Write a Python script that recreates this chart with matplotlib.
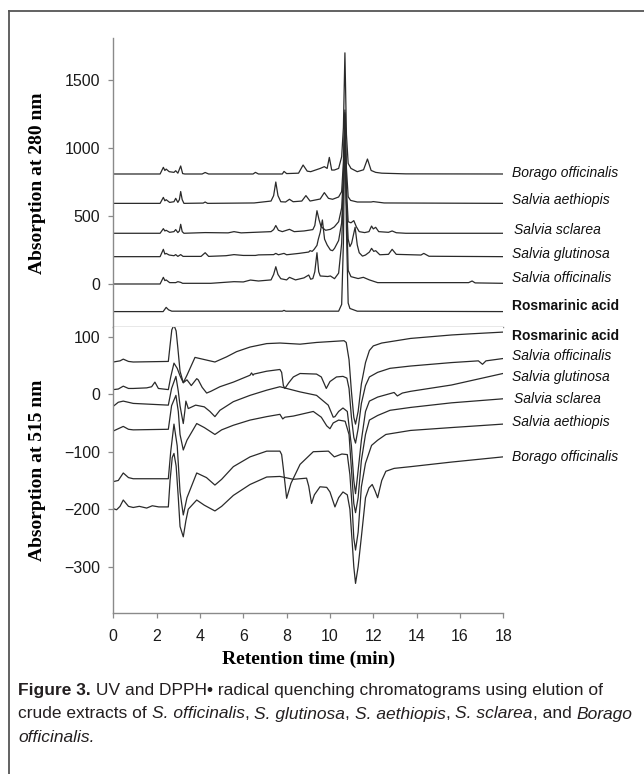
import matplotlib
matplotlib.use("Agg")
import matplotlib.pyplot as plt
from matplotlib import font_manager
from matplotlib.lines import Line2D

# retention time (min), absorbance at 280 nm
uv_borago = [(0, 809), (2.16, 809), (2.31, 858), (2.38, 835), (2.44, 845), (2.58, 826), (2.80, 821),
             (2.88, 833), (2.98, 815), (3.11, 868), (3.20, 812), (3.30, 809), (4.10, 809), (4.24, 820),
             (4.40, 809), (6.45, 809), (6.56, 821), (6.70, 809), (7.80, 809), (7.88, 828), (8.00, 812),
             (8.55, 815), (8.76, 875), (8.95, 830), (9.11, 826), (9.55, 850), (9.74, 863), (9.87, 850),
             (9.97, 931), (10.08, 838), (10.20, 838), (10.40, 850), (10.54, 936), (10.62, 1150),
             (10.69, 1700), (10.76, 1100), (10.84, 887), (10.97, 850), (11.26, 826), (11.55, 840),
             (11.73, 919), (11.90, 835), (12.11, 821), (12.39, 815), (13.5, 810), (18.0, 809)]
uv_aethiopis = [(0, 593), (2.16, 593), (2.31, 637), (2.38, 612), (2.44, 620), (2.60, 600), (2.80, 605),
                (2.88, 630), (2.98, 600), (3.05, 620), (3.11, 680), (3.18, 620), (3.26, 593), (4.15, 595),
                (4.24, 603), (4.35, 593), (6.50, 596), (7.28, 610), (7.40, 650), (7.50, 750), (7.60, 650),
                (7.73, 605), (7.95, 603), (8.13, 623), (8.30, 605), (8.70, 610), (8.89, 650), (9.08, 610),
                (9.55, 625), (9.74, 672), (9.93, 630), (10.12, 623), (10.40, 640), (10.54, 680),
                (10.62, 900), (10.69, 1280), (10.76, 850), (10.84, 642), (10.95, 615), (11.26, 603),
                (11.90, 603), (12.00, 606), (12.50, 596), (18.0, 593)]
uv_sclarea = [(0, 373), (2.16, 373), (2.31, 407), (2.38, 390), (2.44, 395), (2.60, 380), (2.80, 385),
              (2.88, 400), (2.98, 378), (3.05, 390), (3.11, 439), (3.18, 385), (3.26, 373), (4.24, 378),
              (5.30, 376), (5.57, 385), (5.90, 376), (7.28, 385), (7.40, 400), (7.50, 430), (7.62, 395),
              (7.80, 385), (8.13, 402), (8.35, 385), (8.80, 390), (9.21, 400), (9.30, 430), (9.40, 539),
              (9.50, 470), (9.59, 422), (9.80, 395), (10.02, 402), (10.20, 420), (10.40, 458),
              (10.54, 560), (10.62, 800), (10.69, 1230), (10.76, 700), (10.84, 458), (10.97, 450),
              (11.10, 466), (11.22, 420), (11.35, 385), (11.60, 378), (11.80, 385), (11.92, 426),
              (12.00, 405), (12.11, 417), (12.25, 385), (12.70, 380), (12.87, 390), (13.06, 377),
              (13.5, 373), (18.0, 373)]
uv_glutinosa = [(0, 201), (2.16, 201), (2.31, 255), (2.38, 220), (2.44, 225), (2.58, 213), (2.80, 208),
                (2.88, 216), (2.98, 203), (3.11, 216), (3.22, 203), (4.05, 203), (4.24, 230), (4.40, 203),
                (5.20, 208), (5.57, 216), (6.00, 210), (6.56, 210), (6.70, 214), (7.40, 216), (7.50, 225),
                (7.62, 215), (7.88, 225), (8.00, 215), (8.57, 225), (9.02, 235), (9.08, 245), (9.18, 240),
                (9.27, 255), (9.40, 284), (9.46, 328), (9.55, 380), (9.65, 471), (9.75, 330), (9.87, 287),
                (10.02, 250), (10.12, 245), (10.21, 262), (10.40, 320), (10.54, 450), (10.62, 700),
                (10.69, 1000), (10.76, 600), (10.84, 330), (10.92, 275), (11.00, 300), (11.16, 417),
                (11.26, 287), (11.35, 230), (11.50, 205), (11.64, 213), (11.82, 235), (11.92, 262),
                (12.02, 240), (12.11, 245), (12.30, 215), (12.70, 218), (12.87, 255), (13.06, 218),
                (14.20, 213), (14.33, 225), (14.57, 204), (18.0, 201)]
uv_officinalis = [(0, 0), (2.16, 0), (2.31, 49), (2.38, 25), (2.44, 30), (2.60, 10), (2.88, 10), (2.98, 17),
                  (3.11, 12), (3.20, 5), (4.50, 5), (5.57, 17), (6.00, 15), (6.33, 29), (6.70, 22),
                  (7.28, 30), (7.40, 70), (7.50, 127), (7.60, 70), (7.73, 39), (8.00, 30), (8.13, 49),
                  (8.41, 30), (8.80, 45), (9.02, 66), (9.11, 35), (9.21, 40), (9.30, 90), (9.40, 230),
                  (9.48, 90), (9.55, 59), (9.90, 55), (10.02, 59), (10.21, 39), (10.40, 80), (10.54, 300),
                  (10.62, 700), (10.69, 1260), (10.76, 600), (10.84, 100), (10.97, 54), (11.30, 40),
                  (11.54, 49), (11.82, 30), (12.20, 10), (16.40, 10), (16.56, 22), (16.70, 8), (18.0, 5)]
uv_rosmarinic = [(0, -203), (2.30, -203), (2.44, -172), (2.55, -190), (2.70, -200), (7.80, -200),
                 (7.88, -194), (7.96, -200), (10.40, -200), (10.54, -150), (10.62, 300), (10.69, 1250),
                 (10.76, 400), (10.84, -140), (10.92, -180), (11.26, -200), (18.0, -203)]

# retention time (min), absorbance at 515 nm (DPPH)
dpph_rosmarinic = [(0, 56), (0.31, 58), (0.46, 61), (0.70, 57), (0.92, 56), (2.54, 57), (2.62, 85),
                   (2.70, 112), (2.80, 120), (2.90, 110), (2.98, 80), (3.08, 40), (3.23, 20), (3.40, 33),
                   (3.77, 64), (4.00, 62), (4.46, 58), (4.69, 56), (5.23, 65), (5.69, 74), (6.31, 82),
                   (7.08, 88), (7.69, 89), (8.62, 87), (9.38, 90), (10.65, 93), (10.75, 90), (10.88, 60),
                   (10.99, 5), (11.10, -40), (11.18, -52), (11.30, -30), (11.45, 18), (11.64, 55),
                   (11.82, 76), (12.00, 84), (12.39, 89), (13.72, 97), (15.61, 103), (16.50, 105),
                   (17.98, 108)]
dpph_officinalis = [(0, 8), (0.23, 9), (0.46, 14), (0.70, 10), (0.92, 10), (1.54, 11), (1.77, 13),
                    (1.92, 21), (2.08, 10), (2.54, 8), (2.65, 30), (2.80, 54), (2.95, 45), (3.08, 32),
                    (3.23, 20), (3.40, 25), (3.60, 15), (3.85, 27), (3.92, 25), (4.10, 12), (4.31, 2),
                    (4.50, 5), (4.92, 13), (5.54, 21), (6.31, 33), (6.38, 37), (6.45, 33), (6.49, 35),
                    (7.08, 40), (7.69, 43), (7.77, 38), (7.85, 15), (7.92, 10), (8.10, 20), (8.31, 30),
                    (8.62, 36), (9.38, 35), (9.60, 30), (9.83, 10), (10.00, 22), (10.30, 30), (10.60, 31),
                    (10.78, 28), (10.88, 10), (10.99, -40), (11.10, -75), (11.18, -85), (11.30, -60),
                    (11.45, -16), (11.64, 15), (11.82, 30), (12.20, 38), (12.77, 45), (13.72, 49),
                    (15.61, 55), (16.85, 58), (17.04, 52), (17.20, 58), (17.98, 62)]
dpph_glutinosa = [(0, -21), (0.23, -14), (0.46, -12), (0.92, -16), (2.54, -19), (2.69, 10), (2.89, 31),
                  (3.00, 5), (3.08, -20), (3.15, -35), (3.23, -51), (3.30, -30), (3.35, -12), (3.42, -20),
                  (3.46, -25), (3.80, -19), (4.20, -22), (4.46, -30), (4.69, -39), (4.92, -28),
                  (5.54, -13), (6.31, -2), (7.08, 7), (7.69, 13), (8.62, 4), (9.38, -2), (9.92, -19),
                  (10.15, -40), (10.23, -39), (10.40, -30), (10.60, -24), (10.80, -30), (10.99, -90),
                  (11.10, -150), (11.18, -173), (11.25, -150), (11.45, -80), (11.64, -30), (11.82, -12),
                  (12.20, -5), (12.96, 3), (13.11, -3), (13.34, 2), (13.72, 5), (15.61, 16), (17.98, 36)]
dpph_sclarea = [(0, -64), (0.23, -60), (0.46, -56), (0.70, -61), (0.92, -62), (2.54, -61), (2.69, -20),
                (2.89, -2), (3.00, -30), (3.08, -70), (3.23, -97), (3.40, -80), (3.85, -51), (4.20, -58),
                (4.69, -70), (5.00, -62), (5.54, -54), (6.31, -45), (7.08, -39), (7.69, -35), (7.82, -43),
                (7.92, -40), (8.31, -38), (9.23, -30), (9.60, -40), (9.85, -55), (10.00, -60),
                (10.15, -50), (10.40, -45), (10.70, -47), (10.88, -70), (10.99, -130), (11.10, -190),
                (11.18, -206), (11.30, -180), (11.45, -115), (11.64, -70), (11.82, -45), (12.20, -37),
                (12.77, -28), (13.72, -23), (15.61, -15), (17.98, -8)]
dpph_aethiopis = [(0, -152), (0.23, -150), (0.46, -137), (0.70, -145), (0.92, -147), (2.54, -147),
                  (2.65, -100), (2.80, -52), (2.95, -90), (3.08, -170), (3.23, -210), (3.40, -180),
                  (3.85, -137), (4.30, -145), (4.69, -158), (5.00, -148), (5.54, -126), (6.31, -109),
                  (7.08, -99), (7.69, -99), (7.77, -105), (7.85, -130), (8.00, -181), (8.20, -155),
                  (8.62, -122), (9.23, -100), (9.93, -99), (10.20, -109), (10.55, -104), (10.80, -105),
                  (10.92, -140), (11.03, -200), (11.10, -250), (11.18, -271), (11.30, -240),
                  (11.45, -161), (11.64, -120), (11.92, -89), (12.20, -80), (12.58, -70), (13.72, -63),
                  (15.61, -58), (17.98, -52)]
dpph_borago = [(0, -199), (0.15, -201), (0.31, -195), (0.46, -184), (0.70, -195), (0.92, -197),
               (1.20, -195), (1.54, -198), (1.80, -194), (2.10, -196), (2.54, -196), (2.62, -150),
               (2.72, -110), (2.80, -103), (2.90, -125), (3.00, -180), (3.08, -230), (3.23, -248),
               (3.35, -220), (3.46, -200), (3.85, -184), (4.20, -193), (4.69, -203), (5.00, -195),
               (5.54, -176), (6.31, -157), (7.08, -144), (7.69, -143), (8.31, -148), (8.92, -146),
               (9.02, -160), (9.15, -190), (9.28, -175), (9.54, -161), (9.85, -162), (10.00, -170),
               (10.23, -196), (10.40, -180), (10.60, -170), (10.80, -175), (10.92, -200), (11.03, -260),
               (11.10, -300), (11.18, -329), (11.30, -300), (11.45, -248), (11.64, -180), (11.80, -163),
               (11.95, -157), (12.08, -168), (12.20, -180), (12.39, -150), (12.58, -134), (12.96, -129),
               (13.72, -126), (15.61, -118), (17.98, -109)]

uv_traces = [uv_borago, uv_aethiopis, uv_sclarea, uv_glutinosa, uv_officinalis, uv_rosmarinic]
uv_names = ["Borago officinalis", "Salvia aethiopis", "Salvia sclarea", "Salvia glutinosa",
            "Salvia officinalis", "Rosmarinic acid"]
dpph_traces = [dpph_rosmarinic, dpph_officinalis, dpph_glutinosa, dpph_sclarea, dpph_aethiopis, dpph_borago]
dpph_names = ["Rosmarinic acid", "Salvia officinalis", "Salvia glutinosa", "Salvia sclarea",
              "Salvia aethiopis", "Borago officinalis"]

uv_ticks = [0, 500, 1000, 1500]
dpph_ticks = [-300, -200, -100, 0, 100]
time_ticks = list(range(0, 19, 2))

# where the trace names sit (data units, right of the plot)
uv_label_pos = [(18.42, 816), (18.42, 618), (18.5, 397), (18.42, 221), (18.42, 44), (18.42, -160)]
dpph_label_pos = [(18.42, 101), (18.42, 67), (18.42, 30), (18.5, -9), (18.42, -49), (18.42, -110)]

W, H = 644, 774
SANS = "Liberation Sans"
SERIF = "Liberation Serif"
AXIS_GREY = "#8a8a8a"
TRACE = "#2a2a2a"


def fx(px):
    return px / W


def fy(py):
    return 1 - py / H


def has_font(name):
    try:
        font_manager.findfont(font_manager.FontProperties(family=name), fallback_to_default=False)
        return True
    except ValueError:
        return False


def style_axis(ax, ticks, ylim, show_x):
    ax.set_xlim(0, 18)
    ax.set_ylim(*ylim)
    ax.set_yticks(ticks)
    for side in ("top", "right"):
        ax.spines[side].set_visible(False)
    for side in ("left", "bottom"):
        ax.spines[side].set_color(AXIS_GREY)
        ax.spines[side].set_linewidth(1.0)
    ax.tick_params(axis="y", direction="out", length=3.5, width=0.9, color=AXIS_GREY,
                   labelsize=11.5, labelcolor="#1a1a1a", pad=6)
    if show_x:
        ax.set_xticks(time_ticks)
        ax.tick_params(axis="x", direction="out", length=3.5, width=0.9, color=AXIS_GREY,
                       labelsize=11.5, labelcolor="#1a1a1a", pad=8)
    else:
        ax.set_xticks([])
    for lab in ax.get_xticklabels() + ax.get_yticklabels():
        lab.set_fontfamily(SANS)


def draw_traces(ax, traces, names, label_pos):
    for tr, name, (lx, ly) in zip(traces, names, label_pos):
        t = [p[0] for p in tr]
        v = [p[1] for p in tr]
        ax.plot(t, v, color=TRACE, lw=0.9, solid_joinstyle="round")
        bold = name == "Rosmarinic acid"
        ax.text(lx, ly, name, fontfamily=SANS, fontsize=10,
                fontweight="bold" if bold else "normal",
                fontstyle="normal" if bold else "italic",
                ha="left", va="center", color="#111111", clip_on=False)


def rich_line(fig, x_px, y_px, pieces, family, size):
    renderer = fig.canvas.get_renderer()
    x = x_px
    for text, weight, style in pieces:
        t = fig.text(fx(x), fy(y_px), text, fontfamily=family, fontsize=size,
                     fontweight=weight, fontstyle=style, ha="left", va="center", color="#231f20")
        x += t.get_window_extent(renderer).width


fig = plt.figure(figsize=(W / 100, H / 100), dpi=100)

ax_uv = fig.add_axes([fx(113.3), fy(327.5), (503.3 - 113.3) / W, (327.5 - 38.3) / H])
ax_dp = fig.add_axes([fx(113.3), fy(613.3), (503.3 - 113.3) / W, (613.3 - 327.5) / H])

style_axis(ax_uv, uv_ticks, (-320, 1807), show_x=False)
style_axis(ax_dp, dpph_ticks, (-381, 116), show_x=True)

draw_traces(ax_uv, uv_traces, uv_names, uv_label_pos)
draw_traces(ax_dp, dpph_traces, dpph_names, dpph_label_pos)

ax_uv.set_ylabel("Absorption at 280 nm", fontfamily=SERIF, fontweight="bold", fontsize=14)
ax_uv.yaxis.set_label_coords(-0.1726, 0.5)
ax_dp.set_ylabel("Absorption at 515 nm", fontfamily=SERIF, fontweight="bold", fontsize=14)
ax_dp.yaxis.set_label_coords(-0.1726, 0.5)
ax_dp.set_xlabel("Retention time (min)", fontfamily=SERIF, fontweight="bold", fontsize=14)
ax_dp.xaxis.set_label_coords(0.5, (613.3 - 651) / (613.3 - 327.5))

# outer frame (only top and left edges fall inside the image)
frame = dict(transform=fig.transFigure, color="#555555", lw=1.3)
fig.add_artist(Line2D([fx(9.3), 1.0], [fy(10.7), fy(10.7)], **frame))
fig.add_artist(Line2D([fx(9.3), fx(9.3)], [fy(10.7), 0.0], **frame))

# caption
if has_font("Liberation Sans Narrow"):
    cap_family, cap_size = "Liberation Sans Narrow", 15.0
else:
    cap_family, cap_size = SANS, 12.5
N, B, I = ("normal", "normal"), ("bold", "normal"), ("normal", "italic")
caption = [
    [("Figure 3.",) + B, (" UV and DPPH\u2022 radical quenching chromatograms using elution of",) + N],
    [("crude extracts of ",) + N, ("S. officinalis",) + I, (", ",) + N, ("S. glutinosa",) + I, (", ",) + N,
     ("S. aethiopis",) + I, (", ",) + N, ("S. sclarea",) + I, (", and ",) + N, ("Borago",) + I],
    [("officinalis.",) + I],
]
for k, line in enumerate(caption):
    rich_line(fig, 18, 690 + 24 * k, line, cap_family, cap_size)

fig.savefig("out.png", dpi=100)
